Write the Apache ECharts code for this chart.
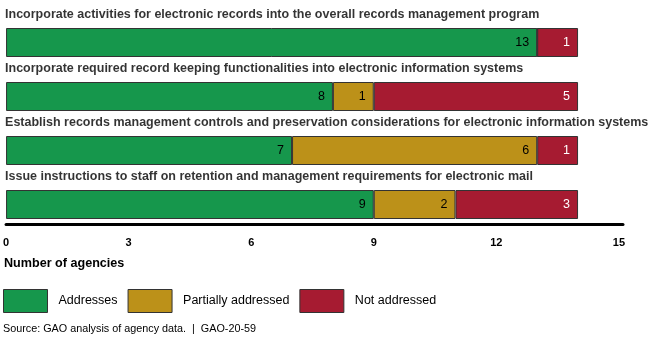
<!DOCTYPE html>
<html>
<head>
<meta charset="utf-8">
<script src="https://cdn.jsdelivr.net/npm/echarts@6/dist/echarts.min.js"></script>
<style>html,body{margin:0;padding:0;background:#fff;}#c{width:650px;height:345px;}</style>
</head>
<body>
<div id="c"></div>
<script>
var categories = [
  'Incorporate activities for electronic records into the overall records management program',
  'Incorporate required record keeping functionalities into electronic information systems',
  'Establish records management controls and preservation considerations for electronic information systems',
  'Issue instructions to staff on retention and management requirements for electronic mail'
];
var addresses = [13, 8, 7, 9];
var partially = [0, 1, 6, 2];
var notAddressed = [1, 5, 1, 3];
var seriesNames = ['Addresses', 'Partially addressed', 'Not addressed'];
var colors = ['#16974c', '#bc9119', '#a61b31'];
var ticks = [0, 3, 6, 9, 12, 15];

var font = '"Liberation Sans", Arial, sans-serif';
function mk(name, data, color, labelColor) {
  return {
    name: name, type: 'bar', stack: 'a', data: data, barWidth: 29,
    itemStyle: { color: color, borderColor: '#333', borderWidth: 1 },
    label: {
      show: true, position: 'insideRight', distance: 8,
      color: labelColor, fontFamily: font, fontSize: 12.5,
      formatter: function (p) { return p.value ? p.value : ''; }
    }
  };
}
var titleData = categories.map(function (c) { return [0, c]; });
var chart = echarts.init(document.getElementById('c'), null, { renderer: 'canvas' });
chart.setOption({
  animation: false,
  textStyle: { fontFamily: font },
  grid: { left: 4, top: 15.5, width: 619, height: 216, containLabel: false },
  xAxis: {
    type: 'value', min: 0, max: 15.1, interval: 3, offset: -7.5,
    axisLine: { show: true, lineStyle: { color: '#000', width: 3 } },
    axisTick: { show: false },
    splitLine: { show: false },
    axisLabel: {
      margin: 13, color: '#000', fontWeight: 'bold', fontSize: 11, fontFamily: font,
      formatter: function (v) { return ticks.indexOf(v) >= 0 ? String(v) : ''; }
    }
  },
  yAxis: {
    type: 'category', data: categories, inverse: true,
    axisLine: { show: false }, axisTick: { show: false },
    axisLabel: { show: false }
  },
  legend: {
    left: 3, top: 289, padding: 0, itemWidth: 44, itemHeight: 23, itemGap: 10, icon: 'rect',
    data: seriesNames,
    textStyle: { color: '#000', fontSize: 12.5, fontFamily: font, padding: [0, 0, 0, 6] },
    itemStyle: { borderColor: '#333', borderWidth: 1 }
  },
  graphic: [
    { type: 'text', left: 4, top: 257, style: { text: 'Number of agencies', fill: '#000', font: 'bold 12.6px ' + font } },
    { type: 'text', left: 3, top: 324, style: { text: 'Source: GAO analysis of agency data.  |  GAO-20-59', fill: '#000', font: '10.8px ' + font } }
  ],
  series: [
    mk(seriesNames[0], addresses, colors[0], '#000'),
    mk(seriesNames[1], partially, colors[1], '#000'),
    mk(seriesNames[2], notAddressed, colors[2], '#fff'),
    {
      type: 'scatter', data: titleData, symbolSize: 0, silent: true, z: 5,
      label: {
        show: true, position: [-1, -27.5], align: 'left', verticalAlign: 'middle',
        color: '#000', fontWeight: 'bold', fontSize: 12.5, fontFamily: font,
        formatter: function (p) { return p.value[1]; }
      },
      labelLayout: { hideOverlap: false }
    }
  ]
});
</script>
</body>
</html>
